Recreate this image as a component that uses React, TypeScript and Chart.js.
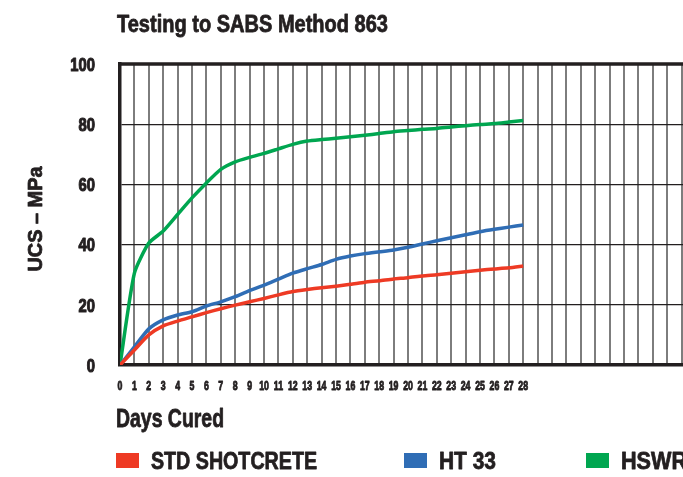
import React, { useEffect, useRef } from "react";
import { Chart, registerables } from "chart.js";

Chart.register(...registerables);

const days = [0, 1, 2, 3, 4, 5, 6, 7, 8, 9, 10, 11, 12, 13, 14, 15, 16, 17, 18, 19, 20, 21, 22, 23, 24, 25, 26, 27, 28];
const stdShotcrete = [0, 5, 10, 13, 14.6, 16, 17.4, 18.7, 19.9, 21, 22.1, 23.3, 24.4, 25.1, 25.7, 26.2, 26.8, 27.5, 28, 28.6, 29, 29.6, 30, 30.5, 31, 31.5, 31.9, 32.3, 32.9];
const ht33 = [0, 6, 12, 15, 16.6, 17.7, 19.6, 21, 22.7, 24.7, 26.5, 28.5, 30.5, 32, 33.4, 35.1, 36.2, 37, 37.6, 38.2, 39.1, 40.2, 41.3, 42.3, 43.3, 44.3, 45.1, 45.8, 46.5];
const hswr = [0, 30.5, 40.5, 44.5, 50, 55.5, 60.5, 65, 67.5, 69, 70.3, 71.8, 73.3, 74.4, 74.9, 75.3, 75.8, 76.3, 76.9, 77.5, 77.9, 78.3, 78.6, 79.1, 79.5, 79.9, 80.2, 80.7, 81.2];
const seriesLabels = ["STD SHOTCRETE", "HT 33", "HSWR"];
const seriesColors = ["#ee3a24", "#2f6db5", "#00a650"];
const yTicks = [0, 20, 40, 60, 80, 100];
const titleText = "Testing to SABS Method 863";
const yTitle = "UCS \u2013 MPa";
const xTitle = "Days Cured";

const FONT = "'Liberation Sans', Arial, sans-serif";
const INK = "#231f20";

// draws heavy bold text narrowed horizontally; y is the alphabetic baseline
function narrowText(ctx: any, text: string, x: number, y: number, size: number, opts: { width?: number; sx?: number; align?: string; heavy?: number }) {
  ctx.save();
  ctx.font = `bold ${size}px ${FONT}`;
  ctx.textBaseline = "alphabetic";
  ctx.textAlign = "left";
  const w = ctx.measureText(text).width;
  const sx = opts.width ? opts.width / w : opts.sx || 1;
  const drawn = w * sx;
  let left = x;
  if (opts.align === "center") left = x - drawn / 2;
  else if (opts.align === "right") left = x - drawn;
  ctx.translate(left, y);
  ctx.scale(sx, 1);
  ctx.fillStyle = INK;
  ctx.fillText(text, 0, 0);
  ctx.strokeStyle = INK;
  ctx.lineJoin = "round";
  ctx.lineWidth = opts.heavy ?? 0.8;
  ctx.strokeText(text, 0, 0);
  ctx.restore();
}

export default function App() {
  const ref = useRef<HTMLCanvasElement | null>(null);

  useEffect(() => {
    if (!ref.current) return;
    const values = [stdShotcrete, ht33, hswr];
    const decor = {
      id: "decor",
      afterDraw(chart: any) {
        const ctx = chart.ctx;
        const a = chart.chartArea;
        const xs = chart.scales.x;
        const ys = chart.scales.y;
        ctx.save();
        ctx.fillStyle = INK;
        ctx.fillRect(a.left - 1.75, a.top - 1.75, a.right - a.left + 3.5, 3.5);
        // tick labels
        yTicks.forEach((v) => narrowText(ctx, String(v), 95, ys.getPixelForValue(v) + 6.8, 19, { sx: 0.78, align: "right", heavy: 1.1 }));
        days.forEach((d) => narrowText(ctx, String(d), xs.getPixelForValue(d), 389.5, 12.5, { sx: 0.7, align: "center", heavy: 0.9 }));
        // titles
        narrowText(ctx, titleText, 117, 31.5, 24, { width: 271 });
        narrowText(ctx, xTitle, 116, 426.5, 25, { width: 108 });
        ctx.save();
        ctx.translate(42, 219);
        ctx.rotate(-Math.PI / 2);
        narrowText(ctx, yTitle, 0, 0, 20, { width: 105, align: "center" });
        ctx.restore();
        // legend
        const boxX = [116, 404, 586];
        const textW = [166, 57, 66];
        chart.data.datasets.forEach((ds: any, i: number) => {
          ctx.fillStyle = ds.borderColor;
          ctx.fillRect(boxX[i], 453, 23, 15);
          narrowText(ctx, ds.label, boxX[i] + 35, 469, 24, { width: textW[i] });
        });
        ctx.restore();
      },
    };

    const chart = new Chart(ref.current, {
      type: "line",
      data: {
        datasets: seriesLabels.map((label, i) => ({
          label,
          data: days.map((d, j) => ({ x: d, y: values[i][j] })),
          borderColor: seriesColors[i],
          backgroundColor: seriesColors[i],
          borderWidth: 3.5,
          pointRadius: 0,
          tension: 0.2,
        })),
      },
      options: {
        animation: false,
        responsive: false,
        layout: { padding: { left: 0, top: 64, right: 4, bottom: 82 } },
        plugins: { legend: { display: false }, tooltip: { enabled: false }, title: { display: false } },
        scales: {
          x: {
            type: "linear",
            min: 0,
            max: 40,
            afterFit: (s: any) => { s.height = 30; },
            grid: { color: "#7d7d7d", lineWidth: 2, drawTicks: false },
            border: { display: true, color: INK, width: 3.5 },
            ticks: { display: false, stepSize: 1, autoSkip: false, maxRotation: 0 },
          },
          y: {
            min: 0,
            max: 100,
            afterFit: (s: any) => { s.width = 120; },
            afterBuildTicks: (s: any) => { s.ticks = yTicks.map((v) => ({ value: v })); },
            grid: { color: INK, lineWidth: 1.2, drawTicks: false },
            border: { display: true, color: INK, width: 3.5 },
            ticks: { display: false },
          },
        },
      },
      plugins: [decor],
    });
    return () => chart.destroy();
  }, []);

  return (
    <div style={{ position: "absolute", left: 0, top: 0, width: 683, height: 477, overflow: "hidden", background: "#fff" }}>
      <canvas ref={ref} width={700} height={477} style={{ display: "block" }} />
    </div>
  );
}
